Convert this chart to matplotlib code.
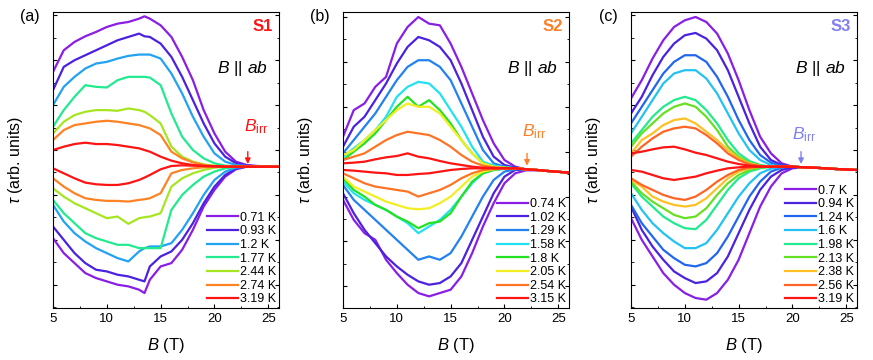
import numpy as np
import matplotlib
matplotlib.use("Agg")
import matplotlib.pyplot as plt
from matplotlib.ticker import MultipleLocator

plt.rcParams['font.family'] = ['Liberation Sans', 'DejaVu Sans']
plt.rcParams['mathtext.fontset'] = 'custom'
plt.rcParams['mathtext.rm'] = 'Liberation Sans'
plt.rcParams['mathtext.it'] = 'Liberation Sans:italic'

# ---- panel (a), sample S1 ----
B_a = [5, 6, 7, 8, 9, 10, 11, 12, 13, 13.5, 14, 15, 16, 17, 18, 19, 20, 21, 22, 23, 24, 26]
T_a = ['0.71 K', '0.93 K', '1.2 K', '1.77 K', '2.44 K', '2.74 K', '3.19 K']
col_a = ['#8a1ee6', '#4a22e0', '#22a2f2', '#22ea8e', '#a6e620', '#ff8224', '#ff1414']
up_a = [
    [285, 350, 375, 392, 405, 420, 430, 435, 445, 452, 445, 425, 390, 330, 260, 170, 100, 45, 15, 5, 2, 0],
    [230, 300, 320, 335, 350, 365, 380, 390, 400, 392, 390, 370, 330, 270, 200, 130, 70, 30, 10, 3, 1, 0],
    [185, 240, 270, 295, 310, 315, 325, 333, 337, 337, 337, 325, 280, 220, 150, 90, 40, 15, 5, 2, 1, 0],
    [120, 170, 210, 245, 240, 238, 260, 270, 270, 270, 268, 245, 160, 90, 50, 25, 10, 3, 1, 0, 0, 0],
    [100, 135, 155, 165, 170, 170, 168, 175, 170, 165, 155, 130, 60, 30, 15, 7, 2, 1, 0, 0, 0, 0],
    [80, 110, 125, 130, 135, 138, 135, 130, 125, 120, 115, 95, 45, 25, 13, 5, 2, 1, 0, 0, 0, 0],
    [50, 60, 68, 72, 68, 68, 65, 60, 55, 50, 45, 30, 18, 10, 5, 2, 1, 0, 0, 0, 0, 0],
]
dn_a = [
    [-215, -260, -290, -320, -335, -345, -355, -360, -370, -380, -340, -300, -290, -250, -190, -120, -70, -30, -8, 0, 0, 0],
    [-180, -220, -260, -290, -310, -315, -325, -330, -340, -345, -300, -270, -255, -220, -170, -110, -60, -25, -5, 0, 0, 0],
    [-115, -165, -200, -225, -245, -260, -275, -285, -255, -245, -240, -240, -230, -190, -140, -85, -40, -15, -3, 0, 0, 0],
    [-100, -140, -170, -200, -215, -225, -235, -235, -245, -245, -245, -245, -130, -85, -55, -30, -15, -5, -1, 0, 0, 0],
    [-65, -90, -110, -125, -140, -155, -150, -172, -155, -152, -150, -140, -60, -35, -20, -10, -3, 0, 0, 0, 0, 0],
    [-35, -60, -80, -95, -100, -103, -103, -105, -100, -98, -95, -80, -20, -10, -5, -2, 0, 0, 0, 0, 0, 0],
    [-5, -20, -35, -48, -53, -55, -55, -50, -40, -33, -25, -8, 2, 4, 3, 2, 1, 0, 0, 0, 0, 0],
]

# ---- panel (b), sample S2 ----
B_b = [5, 6, 7, 8, 9, 10, 11, 12, 13, 14, 15, 16, 17, 18, 19, 20, 21, 22, 23, 24, 26]
T_b = ['0.74 K', '1.02 K', '1.29 K', '1.58 K', '1.8 K', '2.05 K', '2.54 K', '3.15 K']
col_b = ['#8a1ee6', '#4a22e0', '#2282f0', '#22e2f2', '#22e222', '#f2ee22', '#ff7424', '#ff1414']
up_b = [
    [95, 175, 195, 245, 275, 375, 425, 455, 435, 430, 375, 305, 225, 145, 75, 25, 5, -3, -5, -8, -13],
    [65, 125, 155, 205, 255, 315, 365, 395, 385, 365, 325, 255, 175, 95, 35, 10, 2, -3, -5, -8, -13],
    [45, 85, 125, 165, 215, 265, 305, 325, 325, 305, 265, 195, 125, 55, 15, 5, 1, -3, -5, -8, -13],
    [35, 60, 85, 115, 155, 215, 245, 260, 255, 225, 175, 125, 65, 20, 8, 3, 0, -3, -5, -8, -13],
    [25, 50, 75, 105, 145, 185, 215, 185, 205, 175, 135, 85, 45, 15, 5, 2, 0, -3, -5, -8, -13],
    [40, 55, 85, 115, 145, 175, 195, 185, 185, 165, 125, 85, 45, 15, 5, 2, 0, -3, -5, -8, -13],
    [25, 35, 45, 65, 85, 100, 110, 105, 100, 85, 65, 40, 20, 8, 3, 1, 0, -3, -5, -8, -13],
    [15, 17, 20, 27, 33, 37, 45, 35, 30, 22, 15, 10, 5, 2, 1, 0, 0, -3, -5, -8, -13],
]
dn_b = [
    [-95, -155, -195, -215, -275, -315, -350, -375, -385, -375, -365, -325, -255, -175, -105, -45, -15, -6, -6, -8, -13],
    [-75, -135, -185, -225, -265, -295, -320, -340, -350, -345, -325, -285, -215, -145, -75, -25, -5, -4, -5, -8, -13],
    [-50, -95, -125, -155, -185, -215, -245, -275, -265, -275, -255, -205, -145, -85, -35, -10, -3, -3, -5, -8, -13],
    [-40, -75, -95, -110, -125, -145, -165, -195, -175, -155, -125, -85, -45, -15, -5, -2, 0, -3, -5, -8, -13],
    [-30, -65, -85, -110, -125, -145, -160, -180, -165, -160, -135, -85, -40, -15, -5, -1, 0, -3, -5, -8, -13],
    [-25, -55, -70, -85, -100, -110, -120, -123, -120, -105, -85, -55, -25, -10, -3, 0, 0, -3, -5, -8, -13],
    [-15, -30, -45, -55, -60, -65, -70, -85, -75, -65, -50, -30, -15, -5, -2, 0, 0, -3, -5, -8, -13],
    [-5, -7, -10, -13, -15, -20, -20, -17, -15, -10, -5, -2, 0, 0, 0, 0, 0, -3, -5, -8, -13],
]

# ---- panel (c), sample S3 ----
B_c = [5, 6, 7, 8, 9, 10, 11, 12, 13, 14, 15, 16, 17, 18, 19, 20, 21, 22, 23, 24, 26]
T_c = ['0.7 K', '0.94 K', '1.24 K', '1.6 K', '1.98 K', '2.13 K', '2.38 K', '2.56 K', '3.19 K']
col_c = ['#8a1ee6', '#4a22e0', '#2266f0', '#22c2f2', '#22ea8e', '#66e022', '#ffc024', '#ff6424', '#ff1414']
up_c = [
    [205, 260, 325, 380, 420, 440, 450, 435, 400, 340, 260, 170, 90, 40, 10, 0, -2, -3, -5, -7, -10],
    [160, 210, 275, 330, 370, 395, 402, 385, 350, 290, 210, 130, 60, 20, 5, 0, -2, -3, -5, -7, -10],
    [130, 180, 230, 280, 315, 335, 335, 315, 270, 210, 140, 80, 35, 12, 3, 0, -2, -3, -5, -7, -10],
    [100, 150, 200, 250, 280, 290, 290, 265, 220, 160, 100, 50, 20, 5, 0, 0, -2, -3, -5, -7, -10],
    [70, 110, 150, 180, 200, 210, 200, 170, 130, 80, 40, 17, 5, 0, 0, 0, -2, -3, -5, -7, -10],
    [60, 100, 130, 160, 180, 190, 180, 150, 110, 60, 30, 12, 3, 0, 0, 0, -2, -3, -5, -7, -10],
    [40, 80, 100, 125, 140, 145, 130, 105, 80, 50, 25, 10, 2, 0, 0, 0, -2, -3, -5, -7, -10],
    [30, 60, 85, 105, 115, 120, 115, 95, 70, 40, 20, 7, 2, 0, 0, 0, -2, -3, -5, -7, -10],
    [40, 45, 52, 58, 60, 52, 42, 35, 25, 15, 8, 3, 0, 0, 0, 0, -2, -3, -5, -7, -10],
]
dn_c = [
    [-155, -220, -270, -320, -355, -380, -395, -400, -380, -340, -280, -200, -120, -60, -20, -5, -2, -3, -5, -7, -10],
    [-120, -190, -240, -280, -315, -335, -350, -345, -320, -270, -200, -130, -70, -30, -10, -2, -2, -3, -5, -7, -10],
    [-115, -170, -210, -250, -275, -295, -300, -290, -260, -210, -150, -90, -45, -15, -3, 0, -2, -3, -5, -7, -10],
    [-80, -130, -170, -200, -225, -245, -245, -230, -190, -140, -90, -50, -20, -6, -1, 0, -2, -3, -5, -7, -10],
    [-50, -90, -120, -150, -170, -185, -188, -160, -115, -70, -35, -15, -5, 0, 0, 0, -2, -3, -5, -7, -10],
    [-45, -80, -105, -125, -145, -155, -150, -125, -85, -50, -25, -10, -3, 0, 0, 0, -2, -3, -5, -7, -10],
    [-40, -60, -90, -105, -115, -120, -115, -95, -65, -35, -15, -5, 0, 0, 0, 0, -2, -3, -5, -7, -10],
    [-35, -55, -70, -85, -95, -100, -90, -70, -45, -25, -10, -3, 0, 0, 0, 0, -2, -3, -5, -7, -10],
    [-10, -15, -25, -35, -40, -35, -30, -20, -12, -5, -2, 0, 0, 0, 0, 0, -2, -3, -5, -7, -10],
]

panels = [
    ('(a)', 'S1', '#ff1414', B_a, T_a, col_a, up_a, dn_a, (-425, 465), 23.1, 23.9, 120),
    ('(b)', 'S2', '#ff7f27', B_b, T_b, col_b, up_b, dn_b, (-420, 470), 22.1, 22.8, 110),
    ('(c)', 'S3', '#8080f0', B_c, T_c, col_c, up_c, dn_c, (-425, 465), 20.8, 21.1, 95),
]
lefts = [53, 343, 631]

fig = plt.figure(figsize=(8.73, 3.6), dpi=100)
for (tag, sname, scol, B, T, cols, ups, dns, ylim, barr, btxt, hbtxt), lx in zip(panels, lefts):
    ax = fig.add_axes([lx / 873, 52 / 360, 226 / 873, 296 / 360])
    for lab, c, u, d in zip(T, cols, ups, dns):
        ax.plot(B, u, color=c, lw=1.6, label=lab)
        ax.plot(B, d, color=c, lw=1.6)
    ax.set_xlim(5, 26)
    ax.set_ylim(*ylim)
    ax.xaxis.set_major_locator(MultipleLocator(5))
    ax.xaxis.set_minor_locator(MultipleLocator(2.5))
    ax.yaxis.set_major_locator(MultipleLocator(135, offset=50))
    ax.yaxis.set_minor_locator(MultipleLocator(67.5, offset=50))
    ax.tick_params(which='both', direction='in', right=True, top=False, labelleft=False, labelsize=9.5)
    ax.tick_params(which='major', length=3, width=0.8)
    ax.tick_params(which='minor', length=1.8, width=0.6)
    for s in ax.spines.values():
        s.set_linewidth(0.8)
    ax.set_xlabel(r'$B$ (T)', fontsize=12, labelpad=8)
    ax.set_ylabel(r'$\tau$ (arb. units)', fontsize=11.5, labelpad=20)
    ax.text(0.975, 0.952, sname, transform=ax.transAxes, color=scol, fontsize=12,
            fontweight='bold', ha='right', va='center')
    ax.text(0.84, 0.81, r'$B$ || $ab$', transform=ax.transAxes, fontsize=12.5,
            ha='center', va='center')
    ax.annotate('', xy=(barr, 8), xytext=(barr, 45),
                arrowprops=dict(arrowstyle='-|>', color=scol, lw=1.0, mutation_scale=8,
                                shrinkA=0, shrinkB=0))
    ax.text(btxt, hbtxt, r'$B_{\rm irr}$', color=scol, fontsize=12.5, ha='center', va='center')
    ax.legend(loc='lower right', bbox_to_anchor=(1.0, 0.0), frameon=False, fontsize=9,
              handlelength=2.5, handletextpad=0.2, labelspacing=0.13, borderaxespad=0.1,
              borderpad=0.1)
    fig.text((lx - 23) / 873, 1 - 17 / 360, tag, fontsize=11.5, ha='center', va='center')

fig.savefig('out.png', dpi=100)
